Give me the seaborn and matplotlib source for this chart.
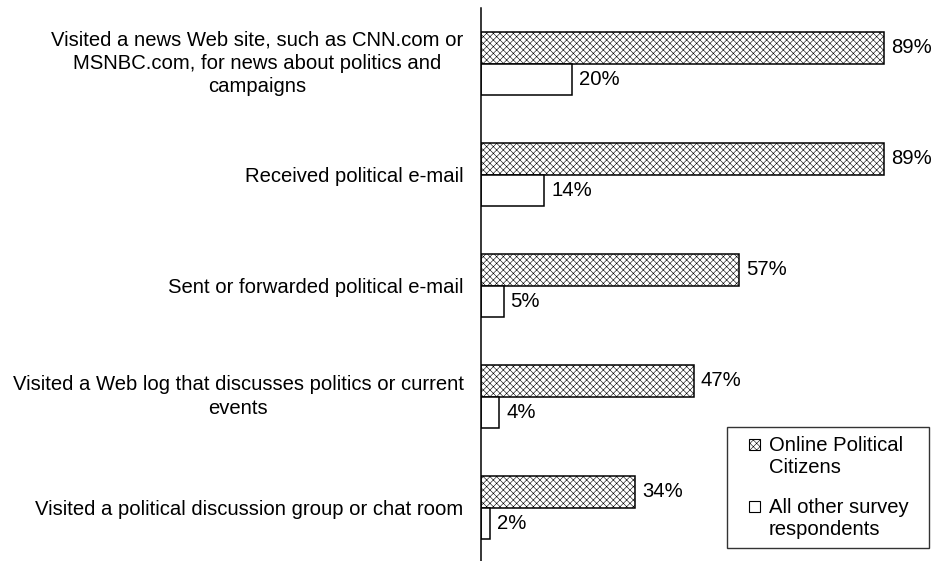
import matplotlib
matplotlib.use("Agg")
import matplotlib.pyplot as plt
import seaborn as sns
import pandas as pd
from matplotlib.patches import Patch, Rectangle
from matplotlib.legend_handler import HandlerPatch

categories = [
    "Visited a news Web site, such as CNN.com or\nMSNBC.com, for news about politics and\ncampaigns",
    "Received political e-mail",
    "Sent or forwarded political e-mail",
    "Visited a Web log that discusses politics or current\nevents",
    "Visited a political discussion group or chat room",
]
series = ["Online Political\nCitizens", "All other survey\nrespondents"]
online_citizens = [89, 89, 57, 47, 34]
other_respondents = [20, 14, 5, 4, 2]

df = pd.DataFrame({
    "activity": categories * 2,
    "group": [series[0]] * len(categories) + [series[1]] * len(categories),
    "pct": online_citizens + other_respondents,
})

sns.set_theme(style="white")
plt.rcParams["font.family"] = ["Liberation Sans", "DejaVu Sans"]
plt.rcParams["text.color"] = "black"
plt.rcParams["ytick.color"] = "black"
plt.rcParams["ytick.labelcolor"] = "black"
plt.rcParams["hatch.linewidth"] = 0.4

FS = 14.6

fig = plt.figure(figsize=(9.35, 5.61), dpi=100)
ax = fig.add_axes([481 / 935, -2 / 561, 453 / 935, 555 / 561])

sns.barplot(data=df, y="activity", x="pct", hue="group", order=categories,
            hue_order=series, orient="h", width=0.57, palette=["white", "white"],
            edgecolor="black", linewidth=1.1, saturation=1, legend=False, ax=ax)

hatch = "xxxxx"
for bar in ax.containers[0]:
    bar.set_hatch(hatch)

for cont, vals in zip(ax.containers, [online_citizens, other_respondents]):
    ax.bar_label(cont, labels=[f"{v}%" for v in vals], padding=5,
                 fontsize=FS, color="black")

ax.set_xlim(0, 100)
ax.set_xlabel("")
ax.set_ylabel("")
ax.set_xticks([])
ax.tick_params(axis="y", length=0, pad=12.5, labelsize=FS, labelcolor="black")
for lbl in ax.get_yticklabels():
    lbl.set_multialignment("center")
    lbl.set_linespacing(1.3)
    if "\n" in lbl.get_text():
        lbl.set_verticalalignment("center")
for side in ["top", "right", "bottom"]:
    ax.spines[side].set_visible(False)
ax.spines["left"].set_color("black")
ax.spines["left"].set_linewidth(1.1)


class TopSquareHandler(HandlerPatch):
    """Small square key, right-aligned in its slot, level with the label's first line."""

    def create_artists(self, legend, orig_handle, xdescent, ydescent,
                       width, height, fontsize, trans):
        side = 0.55 * fontsize
        x0 = -xdescent + width - side
        y0 = -ydescent + height / 2 - side / 2 + 0.6 * fontsize
        p = Rectangle((x0, y0), side, side,
                      facecolor="white", edgecolor="black",
                      hatch=orig_handle.get_hatch(), linewidth=0.8,
                      transform=trans)
        return [p]


handles = [
    Patch(facecolor="white", edgecolor="black", hatch=hatch),
    Patch(facecolor="white", edgecolor="black"),
]
legend_labels = [s.replace("\n", "  \n") for s in series]
leg = fig.legend(handles, legend_labels, loc="lower right",
                 bbox_to_anchor=(929 / 935, 13 / 561), fontsize=FS,
                 frameon=True, fancybox=False, handlelength=1.18, handleheight=0.7,
                 handletextpad=0.44, labelspacing=1.0, borderpad=0.45,
                 borderaxespad=0, handler_map={Patch: TopSquareHandler()})
for t in leg.get_texts():
    t.set_linespacing(1.22)
leg.get_frame().set_edgecolor("black")
leg.get_frame().set_linewidth(1.0)
leg.get_frame().set_boxstyle("square", pad=0)

fig.savefig("out.png", dpi=100)
